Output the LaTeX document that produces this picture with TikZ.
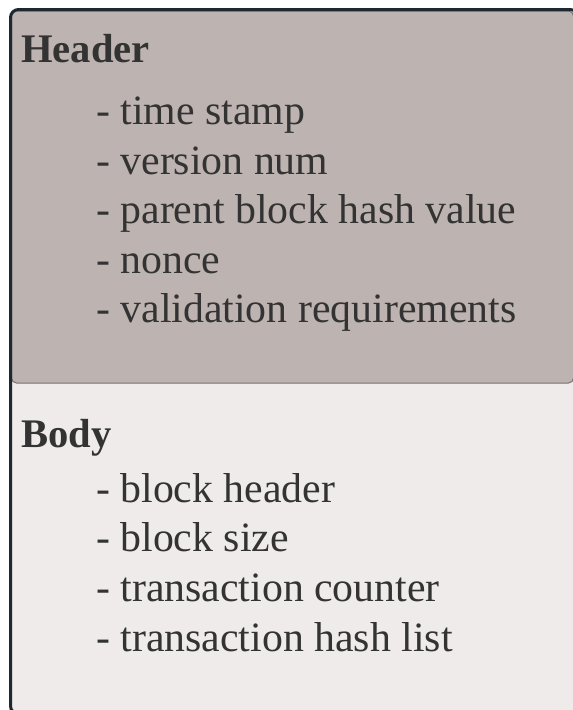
\documentclass[tikz,border=0pt]{standalone}
\usepackage{fontspec}
\setmainfont{Liberation Serif}
\definecolor{framecol}{HTML}{1E2830}
\definecolor{headfill}{HTML}{BDB3B0}
\definecolor{headline}{HTML}{777272}
\definecolor{bodyfill}{HTML}{EEEBEA}
\definecolor{textcol}{HTML}{333333}
\tikzset{
  title/.style={anchor=base west, inner sep=0pt, text=textcol,
    font=\fontsize{40.6}{48}\selectfont\bfseries},
  item/.style={anchor=base west, inner sep=0pt, text=textcol,
    font=\fontsize{41.8}{50}\selectfont},
}
\begin{document}
\begin{tikzpicture}[x=1pt,y=-1pt]
  \useasboundingbox (0,0) rectangle (573,710);
  \clip (0,0) rectangle (573,710);
  \fill[white] (0,0) rectangle (573,710);
  % block body
  \fill[bodyfill, rounded corners=8pt] (10.5,9.5) rectangle (578,714);
  % header section
  \filldraw[fill=headfill, draw=headline, line width=1pt, rounded corners=5pt]
    (11.5,11) rectangle (573.5,383);
  % outer frame
  \draw[framecol, line width=3pt, rounded corners=8pt] (10.5,9.5) rectangle (578,714);

  \node[title] (hdr) at (21,62.7) {Header};
  \node[item] (h1) at (96,124.5) {- time stamp};
  \node[item] (h2) at (96,174) {- version num};
  \node[item] (h3) at (96,223.5) {- parent block hash value};
  \node[item] (h4) at (96,273) {- nonce};
  \node[item] (h5) at (96,322.5) {- validation requirements};

  \node[title] (bdy) at (21,447) {Body};
  \node[item] (b1) at (96,502) {- block header};
  \node[item] (b2) at (96,551.7) {- block size};
  \node[item] (b3) at (96,601.4) {- transaction counter};
  \node[item] (b4) at (96,651) {- transaction hash list};
\end{tikzpicture}
\end{document}
